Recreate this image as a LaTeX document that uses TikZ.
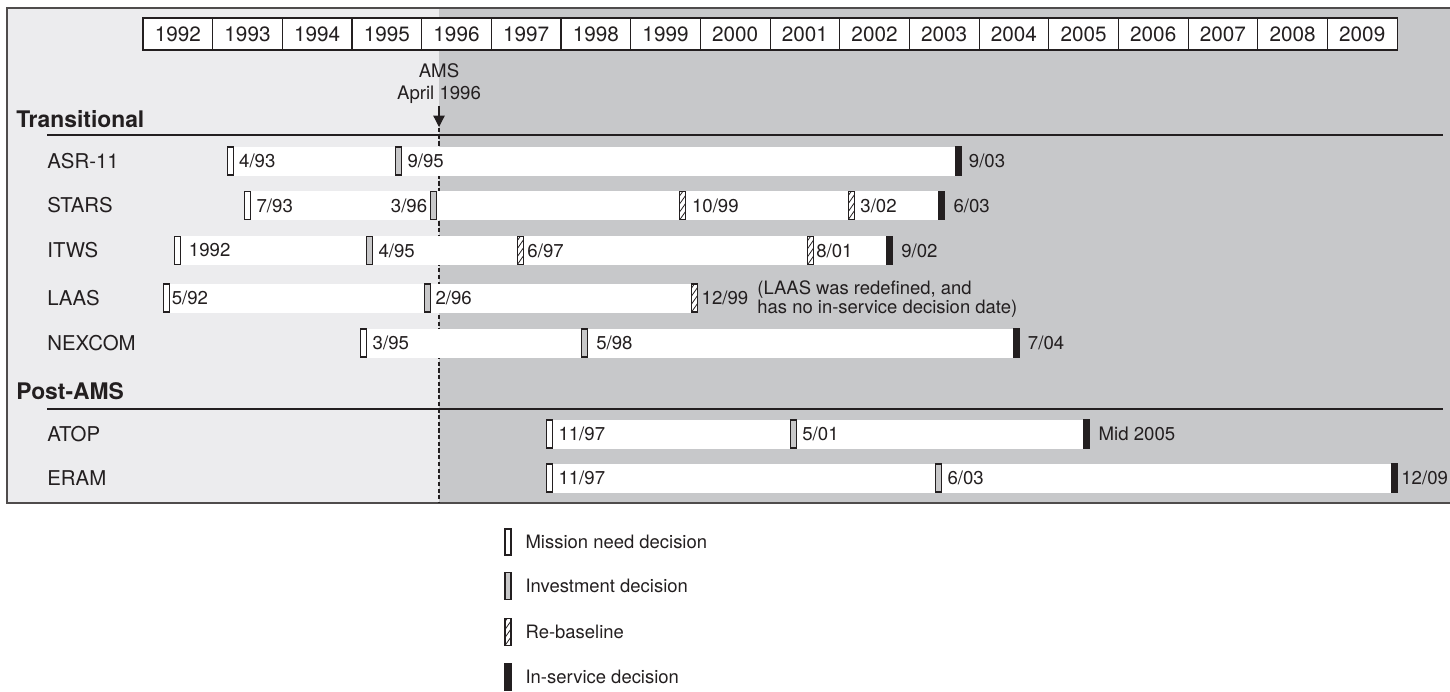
\documentclass[tikz,border=0pt]{standalone}
\usepackage{fontspec}
\setmainfont{TeX Gyre Heros}
\usetikzlibrary{positioning}
\usetikzlibrary{arrows.meta}

\definecolor{ink}{RGB}{35,31,32}
\definecolor{paleback}{RGB}{236,236,238}
\definecolor{darkback}{RGB}{199,200,202}
\definecolor{invgray}{RGB}{200,200,201}

\newcommand{\rowfont}{\fontsize{11.6}{13}\selectfont}
\newcommand{\datefont}{\fontsize{10.6}{12}\selectfont}
\newcommand{\tlbar}[3]{\fill[white] ({#2},{#1-14.5}) rectangle ({#3},{#1+14.5});}

\tikzset{
	declare function={tx(\yy,\mm)=143+69.67*(\yy-1992+(\mm-1)/12);},
	yearbox/.style={draw=ink, fill=white, line width=0.6pt, minimum width=1.3934cm,
			minimum height=0.64cm, inner sep=0, text=ink, font=\fontsize{11.8}{13}\selectfont},
	marker/.style={draw=ink, line width=0.6pt, minimum width=0.12cm,
			minimum height=0.56cm, inner sep=0, outer sep=0},
	mn/.style={marker, fill=white},
	inv/.style={marker, fill=invgray},
	rebase/.style={marker, fill=white, path picture={
				\foreach \k in {-2,...,3}{
					\draw[ink, line width=0.45pt] ([yshift=\k*0.16cm]path picture bounding box.south west) -- ++(0.14cm,0.2cm);}}},
	insvc/.style={marker, fill=ink, anchor=west},
	lbl/.style={text=ink, inner sep=1pt, font=\datefont},
	rowname/.style={text=ink, anchor=west, inner sep=0, font=\rowfont},
	grouptitle/.style={text=ink, anchor=west, inner sep=0, font=\fontsize{13}{14}\selectfont\bfseries},
	legtxt/.style={text=ink, inner sep=1pt, font=\fontsize{10.5}{12}\selectfont},
	notetxt/.style={text=ink, inner sep=1pt, align=left, font=\fontsize{10.5}{9.6}\selectfont}
}

\begin{document}
\begin{tikzpicture}[x=0.02cm, y=-0.02cm]
	\useasboundingbox (0,0) rectangle (1450,691);

	% shaded periods before and after AMS
	\fill[paleback] (7,8) rectangle (439,503);
	\fill[darkback] (439,8) rectangle (1450,503);
	\draw[ink!80, line width=0.8pt] (1450,8) -- (7,8) -- (7,503) -- (1450,503);

	\foreach \y [count=\i from 0] in {1992,...,2009}
		\node[yearbox] (y\y) at ({143+69.67*(\i+0.5)},34) {\y};

	\draw[ink, line width=0.7pt] (47,135) -- (1443,135);
	\draw[ink, line width=0.7pt] (47,409) -- (1443,409);

	\node[grouptitle] (trans) at (16,119) {Transitional};
	\node[grouptitle] (post) at (16,391) {Post-AMS};

	\node[text=ink, align=center, inner sep=1pt, font=\fontsize{10.6}{12.5}\selectfont] (ams) at (439,84) {AMS\\April 1996};
	\coordinate (amstip) at (439,127);
	\coordinate (dtop) at (439,128);
	\coordinate (dbot) at (439,503);
	\draw[ink, line width=0.7pt, -{Triangle[width=6.5pt,length=6.5pt]}] (ams) -- (amstip);
	\draw[ink, line width=1.1pt, dash pattern=on 2.4pt off 1.4pt] (dtop) -- (dbot);

	% bars
	\tlbar{161}{tx(1993,4)}{tx(2003,9)}
	\tlbar{205.5}{tx(1993,7)}{tx(2003,6)}
	\tlbar{250.5}{tx(1992,7)}{tx(2002,9)}
	\tlbar{298}{tx(1992,5)}{tx(1999,12)}
	\tlbar{343}{tx(1995,3)}{tx(2004,7)}
	\tlbar{434}{tx(1997,11)}{tx(2005,7)}
	\tlbar{478}{tx(1997,11)}{tx(2009,12)}

	% ASR-11
	\node[rowname] (nasr) at (47,161) {ASR-11};
	\node[mn] (asr1) at ({tx(1993,4)},161) {};
	\node[inv] (asr2) at ({tx(1995,9)},161) {};
	\node[insvc] (asr3) at ({tx(2003,9)},161) {};
	\node[lbl, right=0.08cm of asr1] {4/93};
	\node[lbl, right=0.08cm of asr2] {9/95};
	\node[lbl, right=0.1cm of asr3] {9/03};

	% STARS
	\node[rowname] (nstars) at (47,205.5) {STARS};
	\node[mn] (st1) at ({tx(1993,7)},205.5) {};
	\node[inv] (st2) at ({tx(1996,3)},205.5) {};
	\node[rebase] (st3) at ({tx(1999,10)},205.5) {};
	\node[rebase] (st4) at ({tx(2002,3)},205.5) {};
	\node[insvc] (st5) at ({tx(2003,6)},205.5) {};
	\node[lbl, right=0.08cm of st1] {7/93};
	\node[lbl, left=0.02cm of st2] {3/96};
	\node[lbl, right=0.08cm of st3] {10/99};
	\node[lbl, right=0.08cm of st4] {3/02};
	\node[lbl, right=0.14cm of st5] {6/03};

	% ITWS
	\node[rowname] (nitws) at (47,250.5) {ITWS};
	\node[mn] (it1) at ({tx(1992,7)},250.5) {};
	\node[inv] (it2) at ({tx(1995,4)},250.5) {};
	\node[rebase] (it3) at ({tx(1997,6)},250.5) {};
	\node[rebase] (it4) at ({tx(2001,8)},250.5) {};
	\node[insvc] (it5) at ({tx(2002,9)},250.5) {};
	\node[lbl, right=0.12cm of it1] {1992};
	\node[lbl, right=0.08cm of it2] {4/95};
	\node[lbl, right=0.04cm of it3] {6/97};
	\node[lbl, right=0.01cm of it4] {8/01};
	\node[lbl, right=0.14cm of it5] {9/02};

	% LAAS
	\node[rowname] (nlaas) at (47,298) {LAAS};
	\node[mn] (la1) at ({tx(1992,5)},298) {};
	\node[inv] (la2) at ({tx(1996,2)},298) {};
	\node[rebase] (la3) at ({tx(1999,12)},298) {};
	\node[lbl, right=0.01cm of la1] {5/92};
	\node[lbl, right=0.06cm of la2] {2/96};
	\node[lbl, right=0.04cm of la3] (la3t) {12/99};
	\node[notetxt, right=0.1cm of la3t, yshift=-0.02cm] (lanote) {(LAAS was redefined, and\\has no in-service decision date)};

	% NEXCOM
	\node[rowname] (nnex) at (47,343) {NEXCOM};
	\node[mn] (nx1) at ({tx(1995,3)},343) {};
	\node[inv] (nx2) at ({tx(1998,5)},343) {};
	\node[insvc] (nx3) at ({tx(2004,7)},343) {};
	\node[lbl, right=0.08cm of nx1] {3/95};
	\node[lbl, right=0.14cm of nx2] {5/98};
	\node[lbl, right=0.12cm of nx3] {7/04};

	% ATOP
	\node[rowname] (natop) at (47,434) {ATOP};
	\node[mn] (at1) at ({tx(1997,11)},434) {};
	\node[inv] (at2) at ({tx(2001,5)},434) {};
	\node[insvc] (at3) at ({tx(2005,7)},434) {};
	\node[lbl, right=0.08cm of at1] {11/97};
	\node[lbl, right=0.08cm of at2] {5/01};
	\node[lbl, right=0.14cm of at3] {Mid 2005};

	% ERAM
	\node[rowname] (neram) at (47,478) {ERAM};
	\node[mn] (er1) at ({tx(1997,11)},478) {};
	\node[inv] (er2) at ({tx(2003,6)},478) {};
	\node[insvc] (er3) at ({tx(2009,12)},478) {};
	\node[lbl, right=0.08cm of er1] {11/97};
	\node[lbl, right=0.08cm of er2] {6/03};
	\node[lbl, right=0.04cm of er3] {12/09};

	% legend
	\node[mn, minimum height=0.52cm] (lgmn) at (508,542) {};
	\node[inv, minimum height=0.54cm] (lginv) at (508,586) {};
	\node[rebase, minimum height=0.54cm] (lgreb) at (508,632) {};
	\node[insvc, minimum height=0.54cm, anchor=center] (lgins) at (508,677) {};
	\node[legtxt, right=0.25cm of lgmn] {Mission need decision};
	\node[legtxt, right=0.25cm of lginv] {Investment decision};
	\node[legtxt, right=0.25cm of lgreb] {Re-baseline};
	\node[legtxt, right=0.25cm of lgins] {In-service decision};
\end{tikzpicture}
\end{document}
